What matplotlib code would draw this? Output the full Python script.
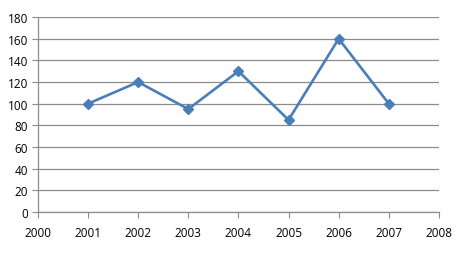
import matplotlib.pyplot as plt

years = [2001, 2002, 2003, 2004, 2005, 2006, 2007]
values = [100, 120, 95, 130, 85, 160, 100]
x_ticks = list(range(2000, 2009))
y_ticks = list(range(0, 181, 20))

plt.rcParams['font.family'] = ['Open Sans', 'DejaVu Sans']

fig = plt.figure(figsize=(4.74, 2.55), dpi=100)
ax = fig.add_axes([0.080, 0.165, 0.846, 0.764])

ax.plot(years, values, color='#4A7EBB', linewidth=1.9, marker='D', markersize=5.5,
        markerfacecolor='#4A7EBB', markeredgecolor='#4A7EBB', zorder=3)

ax.set_xlim(2000, 2008)
ax.set_ylim(0, 180)
ax.set_xticks(x_ticks)
ax.set_yticks(y_ticks)
ax.grid(axis='y', color='#8C8C8C', linewidth=0.9)
ax.set_axisbelow(True)

for side in ['top', 'right']:
    ax.spines[side].set_visible(False)
for side in ['left', 'bottom']:
    ax.spines[side].set_color('#8C8C8C')
    ax.spines[side].set_linewidth(0.9)

ax.tick_params(axis='x', direction='out', length=4, color='#8C8C8C', labelsize=8.5, pad=6)
ax.tick_params(axis='y', direction='out', length=4, color='#8C8C8C', labelsize=8.5, pad=3)

fig.savefig('out.png', dpi=100)
